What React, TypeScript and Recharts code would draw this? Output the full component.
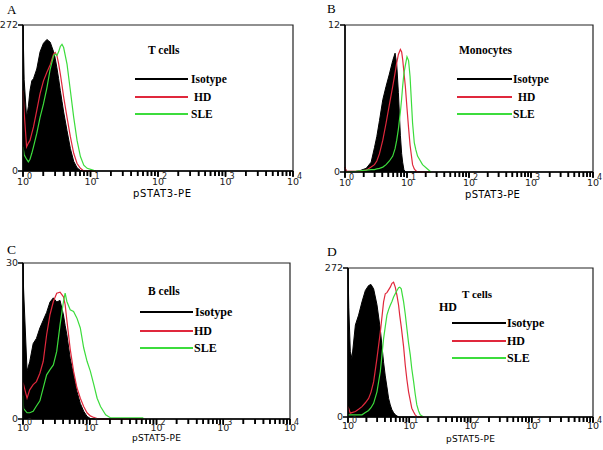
import React from 'react';
import { ComposedChart, Area, Line, XAxis, YAxis, ReferenceArea } from 'recharts';

// ---------- DATA ----------
const seriesNames = ['Isotype', 'HD', 'SLE'];
const panelLetters = ['A', 'B', 'C', 'D'];
const cellLabels = ['T cells', 'Monocytes', 'B cells', 'T cells'];
const axisLabels = ['pSTAT3-PE', 'pSTAT3-PE', 'pSTAT5-PE', 'pSTAT5-PE'];
const yMaxes = [272, 12, 30, 272];
const majorTicks = [1, 10, 100, 1000, 10000];
const minorMultipliers = [2, 3, 4, 5, 6, 7, 8, 9];

// Panel A: T cells, pSTAT3
const aIntensity = [1, 1.04, 1.13, 1.2, 1.27, 1.35, 1.43, 1.6, 1.79, 2.01, 2.26, 2.53, 2.84, 3.0, 3.18, 3.37, 3.57, 3.78, 4.0, 4.49, 5.03, 5.64, 6.32, 7.09, 7.95, 8.92, 10.6, 11.9];
const aIsotype = [272, 170, 100, 120, 150, 168, 172, 190, 222, 238, 245, 240, 222, 210, 192, 172, 150, 130, 110, 75, 42, 18, 6, 1, 0, 0, 0, 0];
const aHD = [150, 110, 45, 52, 57, 70, 82, 113, 144, 168, 184, 198, 218, 221, 215, 200, 181, 160, 138, 100, 64, 33, 14, 5, 0, 0, 0, 0];
const aSLE = [45, 30, 22, 17, 22, 33, 45, 70, 100, 125, 155, 190, 215, 218, 215, 222, 232, 236, 230, 199, 150, 100, 57, 27, 11, 5, 2, 0];

// Panel B: Monocytes, pSTAT3
const bIntensity = [1, 1.05, 1.5, 1.72, 2.2, 2.64, 2.99, 3.26, 3.6, 4.07, 4.6, 5.2, 5.89, 6.42, 6.83, 7.26, 7.82, 8.2, 8.51, 8.9, 9.4, 10.0, 10.6, 11.2, 12.3, 13.1, 13.9, 14.8, 17.8, 21.4, 24.3];
const bIsotype = [0.4, 0.05, 0.05, 0.1, 0.3, 0.8, 2.0, 2.9, 4.2, 5.9, 7.0, 8.0, 9.1, 9.7, 8.8, 6.5, 3.0, 1.5, 0.8, 0.2, 0, 0, 0, 0, 0, 0, 0, 0, 0, 0, 0];
const bHD = [0.4, 0.05, 0.05, 0.05, 0.15, 0.4, 0.6, 0.9, 1.5, 2.6, 4.0, 5.5, 7.0, 8.1, 8.9, 9.6, 10.0, 9.8, 9.2, 8.2, 7.0, 5.2, 3.6, 2.2, 0.6, 0.25, 0.1, 0, 0, 0, 0];
const bSLE = [0, 0, 0.05, 0.1, 0.15, 0.2, 0.2, 0.25, 0.3, 0.4, 0.6, 0.9, 1.3, 1.9, 2.6, 3.5, 4.9, 6.0, 7.0, 8.0, 8.7, 9.4, 9.1, 7.8, 4.0, 2.4, 1.8, 1.3, 0.6, 0.25, 0];

// Panel C: B cells, pSTAT5
const cIntensity = [1, 1.02, 1.15, 1.26, 1.42, 1.59, 1.79, 2.01, 2.26, 2.54, 2.85, 3.2, 3.59, 4.04, 4.28, 4.54, 5.09, 5.72, 6.43, 7.22, 8.11, 9.11, 10.2, 11.5, 12.9, 14.5, 17.3, 20.6, 26, 36.8, 62, 65];
const cIsotype = [30, 25, 9.2, 11, 14.5, 15.5, 17.5, 19.0, 20.5, 22.5, 23.3, 22.5, 22.8, 20.0, 18.0, 16.2, 11.7, 8.5, 5.3, 3.0, 1.5, 0.5, 0.1, 0, 0, 0, 0, 0, 0, 0, 0, 0];
const cHD = [7.0, 6.6, 4.0, 5.6, 6.6, 7.2, 8.8, 11.1, 16.2, 20.1, 22.6, 24.2, 24.4, 23.5, 22.0, 19.0, 13.5, 9.2, 6.0, 4.0, 2.4, 1.2, 0.6, 0.3, 0.1, 0, 0, 0, 0, 0, 0, 0];
const cSLE = [4.5, 2.0, 1.2, 1.2, 1.5, 2.5, 3.5, 6.0, 8.5, 9.5, 10.4, 13.0, 18.1, 22.6, 24.2, 22.6, 21.0, 20.7, 19.4, 17.5, 13.7, 11.1, 9.2, 6.6, 4.0, 2.4, 0.8, 0.2, 0.2, 0.2, 0.2, 0];

// Panel D: T cells, pSTAT5
const dIntensity = [1, 1.03, 1.09, 1.16, 1.32, 1.49, 1.69, 1.92, 2.17, 2.37, 2.62, 2.97, 3.37, 3.81, 4.06, 4.32, 4.6, 4.9, 5.22, 5.55, 5.91, 6.3, 6.7, 7.0, 7.4, 8.09, 8.6, 9.16, 9.75, 10.4, 11.0, 11.8, 12.5, 13.3, 14.2, 15.1, 17.1];
const dIsotype = [272, 200, 120, 107, 168, 186, 210, 231, 240, 242, 234, 205, 160, 100, 75, 55, 34, 22, 13, 8, 4, 2, 0, 0, 0, 0, 0, 0, 0, 0, 0, 0, 0, 0, 0, 0, 0];
const dHD = [19, 15, 7, 8, 10, 14, 19, 26, 34, 45, 64, 107, 155, 210, 225, 227, 232, 237, 244, 246, 237, 222, 204, 185, 165, 128, 95, 68, 46, 30, 16, 9, 4, 1, 0, 0, 0];
const dSLE = [4, 4, 4, 4, 4, 4, 4, 8, 12, 17, 25, 46, 83, 143, 165, 186, 196, 204, 211, 219, 225, 231, 236, 237, 234, 210, 188, 161, 135, 113, 88, 64, 42, 22, 11, 4, 0];

// ---------- STYLE ----------
const COLORS = { iso: '#000000', hd: '#e0283c', sle: '#3cdc3c' };
const sans = "'DejaVu Sans', sans-serif";
const serif = "'Liberation Serif', 'Times New Roman', serif";

const xTicks: number[] = [];
majorTicks.forEach((m, i) => {
  xTicks.push(m);
  if (i < majorTicks.length - 1) minorMultipliers.forEach((k) => xTicks.push(m * k));
});

const TICK = 5;

const LogTick = (props: any) => {
  const { x, y, payload, fs, dy } = props;
  const v = payload.value;
  const lg = Math.log10(v);
  const exp = Math.round(lg);
  const major = Math.abs(lg - exp) < 1e-6;
  const axisY = y - TICK;
  const half = fs * 0.636;
  return (
    <g>
      <rect x={x - 0.8} y={axisY} width={1.6} height={major ? 6 : 5} fill="#000" />
      {major && (
        <>
          <text x={x - half} y={axisY + dy} textAnchor="start" fontSize={fs} fontFamily={sans} fill="#222">10</text>
          <text x={x + half - 2} y={axisY + dy - 6.5} textAnchor="start" fontSize={fs - 1.5} fontFamily={sans} fill="#222">{exp}</text>
        </>
      )}
    </g>
  );
};

type HistProps = {
  xs: number[]; iso: number[]; hd: number[]; sle: number[];
  yMax: number; left: number; top: number; width: number; height: number;
  fs: number; dy: number;
};

function Histogram({ xs, iso, hd, sle, yMax, left, top, width, height, fs, dy }: HistProps) {
  const data = xs.map((x, i) => ({ x, iso: iso[i], hd: hd[i], sle: sle[i] }));
  const ML = 30, MT = 8, MR = 14, MB = 30;
  return (
    <div style={{ position: 'absolute', left: left - ML, top: top - MT }}>
      <ComposedChart
        width={width + ML + MR}
        height={height + MT + MB}
        data={data}
        margin={{ top: MT, right: MR, left: 0, bottom: 0 }}
      >
        <ReferenceArea
          x1={1}
          x2={10000}
          y1={0}
          y2={yMax}
          fill="none"
          fillOpacity={0}
          stroke="#222"
          strokeWidth={1.2}
          ifOverflow="visible"
        />
        <Area
          dataKey="iso"
          type="linear"
          stroke={COLORS.iso}
          strokeWidth={1}
          fill={COLORS.iso}
          fillOpacity={1}
          dot={false}
          activeDot={false}
          isAnimationActive={false}
        />
        <Line dataKey="hd" type="linear" stroke={COLORS.hd} strokeWidth={1.2} dot={false} activeDot={false} isAnimationActive={false} />
        <Line dataKey="sle" type="linear" stroke={COLORS.sle} strokeWidth={1.2} dot={false} activeDot={false} isAnimationActive={false} />
        <XAxis
          dataKey="x"
          type="number"
          scale="log"
          domain={[1, 10000]}
          ticks={xTicks}
          interval={0}
          tickSize={TICK}
          tickMargin={0}
          tickLine={{ stroke: '#000', strokeWidth: 1.5 }}
          height={MB}
          axisLine={{ stroke: '#000', strokeWidth: 1.5 }}
          tick={(p: any) => <LogTick {...p} fs={fs} dy={dy} />}
        />
        <YAxis
          type="number"
          domain={[0, yMax]}
          ticks={[0, yMax]}
          interval={0}
          width={ML}
          tickSize={5}
          tickMargin={0}
          axisLine={{ stroke: '#000', strokeWidth: 1.5 }}
          tickLine={{ stroke: '#000', strokeWidth: 1.5 }}
          tick={{ fontSize: fs, fill: '#222', fontFamily: 'DejaVu Sans' }}
        />
      </ComposedChart>
    </div>
  );
}

const Txt = ({ x, cy, size, bold, family, children, spacing }: any) => (
  <div
    style={{
      position: 'absolute',
      left: x,
      top: cy - 8.5,
      fontFamily: family || serif,
      fontWeight: bold ? 'bold' : 'normal',
      fontSize: size,
      lineHeight: '16px',
      whiteSpace: 'nowrap',
      letterSpacing: spacing || 0,
      color: '#000',
    }}
  >
    {children}
  </div>
);

const Swatch = ({ x1, x2, y, color, h }: any) => (
  <div style={{ position: 'absolute', left: x1, top: y - h / 2, width: x2 - x1, height: h, background: color }} />
);

const Legend = ({ x1, x2, ys, txs, size }: any) => (
  <>
    <Swatch x1={x1} x2={x2} y={ys[0]} color={COLORS.iso} h={2.5} />
    <Swatch x1={x1} x2={x2} y={ys[1]} color={COLORS.hd} h={2} />
    <Swatch x1={x1} x2={x2} y={ys[2]} color={COLORS.sle} h={2} />
    <Txt x={txs[0]} cy={ys[0]} size={size} bold>{seriesNames[0]}</Txt>
    <Txt x={txs[1]} cy={ys[1]} size={size} bold>{seriesNames[1]}</Txt>
    <Txt x={txs[2]} cy={ys[2]} size={size} bold>{seriesNames[2]}</Txt>
  </>
);

export default function App() {
  return (
    <div style={{ position: 'absolute', left: 0, top: 0, width: 603, height: 450, overflow: 'hidden', background: '#fff' }}>
      <Histogram xs={aIntensity} iso={aIsotype} hd={aHD} sle={aSLE} yMax={yMaxes[0]} left={23} top={25} width={270} height={146} fs={9.5} dy={14} />
      <Histogram xs={bIntensity} iso={bIsotype} hd={bHD} sle={bSLE} yMax={yMaxes[1]} left={345} top={25} width={248} height={147} fs={9.5} dy={14} />
      <Histogram xs={cIntensity} iso={cIsotype} hd={cHD} sle={cSLE} yMax={yMaxes[2]} left={23} top={263} width={267} height={156} fs={9.5} dy={12} />
      <Histogram xs={dIntensity} iso={dIsotype} hd={dHD} sle={dSLE} yMax={yMaxes[3]} left={348} top={268} width={245} height={149} fs={9.5} dy={12} />

      {/* Panel A */}
      <Txt x={7} cy={10.5} size={13}>{panelLetters[0]}</Txt>
      <Txt x={148} cy={50} size={11.5} bold>{cellLabels[0]}</Txt>
      <Legend x1={135} x2={188} ys={[79, 97, 114]} txs={[191, 194, 191]} size={11.5} />
      <Txt x={133} cy={194.5} size={10} family={sans} spacing={0.7}>{axisLabels[0]}</Txt>

      {/* Panel B */}
      <Txt x={327} cy={9} size={13}>{panelLetters[1]}</Txt>
      <Txt x={459} cy={50} size={11.5} bold>{cellLabels[1]}</Txt>
      <Legend x1={457} x2={512} ys={[79, 97, 114]} txs={[513, 518, 513]} size={11.5} />
      <Txt x={465} cy={195} size={10} family={sans} spacing={0.3}>{axisLabels[1]}</Txt>

      {/* Panel C */}
      <Txt x={7} cy={250.5} size={13.5}>{panelLetters[2]}</Txt>
      <Txt x={148} cy={291.5} size={11.5} bold>{cellLabels[2]}</Txt>
      <Legend x1={140} x2={193} ys={[312, 331, 348]} txs={[195, 194, 194]} size={12} />
      <Txt x={132} cy={438} size={9} family={sans} spacing={0.2}>{axisLabels[2]}</Txt>

      {/* Panel D */}
      <Txt x={327} cy={252} size={13.5}>{panelLetters[3]}</Txt>
      <Txt x={462} cy={294} size={11} bold>{cellLabels[3]}</Txt>
      <Txt x={439} cy={307} size={12} bold>{seriesNames[1]}</Txt>
      <Legend x1={452} x2={506} ys={[323, 341, 358]} txs={[507, 507, 507]} size={12} />
      <Txt x={446} cy={439} size={9} family={sans} spacing={0.2}>{axisLabels[3]}</Txt>
    </div>
  );
}
